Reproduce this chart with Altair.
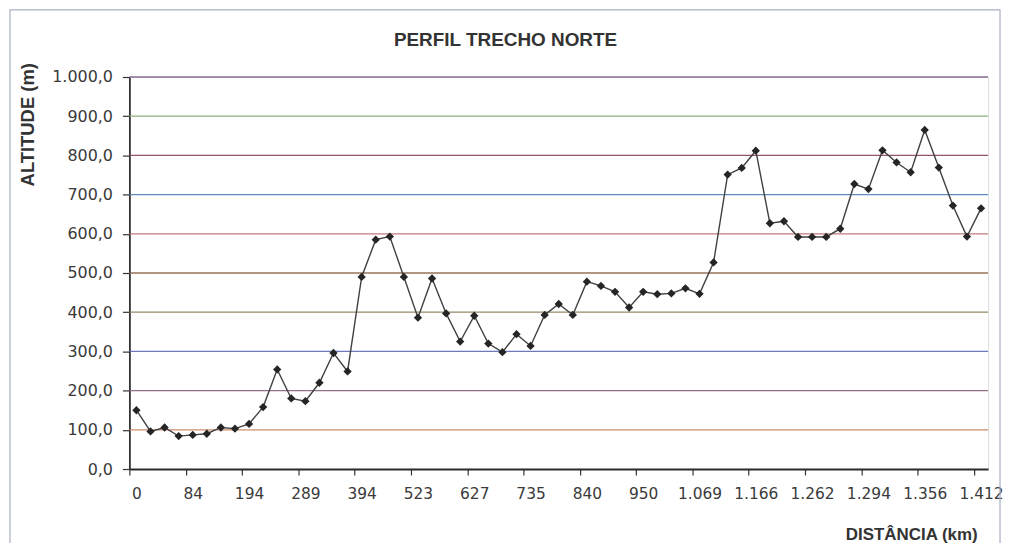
import altair as alt
import pandas as pd

# ---- data ----
title_text = "PERFIL TRECHO NORTE"
distance_labels = ["0", "84", "194", "289", "394", "523", "627", "735", "840",
                   "950", "1.069", "1.166", "1.262", "1.294", "1.356", "1.412"]

altitude = [150, 96, 106, 84, 87, 90, 106, 103, 115, 158,
            254, 180, 173, 220, 296, 249, 490, 585, 593, 490,
            386, 486, 397, 325, 391, 320, 298, 344, 314, 393,
            421, 393, 478, 467, 452, 412, 452, 446, 448, 461,
            447, 527, 751, 768, 812, 627, 632, 592, 592, 592,
            613, 727, 714, 813, 782, 757, 865, 769, 672, 593, 665]

y_ticks = [0, 100, 200, 300, 400, 500, 600, 700, 800, 900, 1000]
grid_values = [100, 200, 300, 400, 500, 600, 700, 800, 900, 1000]
grid_colors = ["#c8805c", "#86607a", "#5c6cb8", "#8a7c58", "#8a6448",
               "#b86c6c", "#5080b8", "#884060", "#80a86c", "#80608a"]

n = len(altitude)
df = pd.DataFrame({"i": list(range(n)), "alt": altitude})
grid_df = pd.DataFrame({"g": grid_values})

step = 4
tick_vals = [step * k for k in range(len(distance_labels))]
label_js = "[" + ",".join("'" + s + "'" for s in distance_labels) + "]"
x_label_expr = label_js + "[round(datum.value / " + str(step) + ")]"
y_label_expr = ("replace(replace(replace(format(datum.value, ',.1f'), ',', '_'), '.', ','), '_', '.')")

W, H = 863, 394
half = W / n / 2
x_scale = alt.Scale(domain=[-0.5, n - 0.5], nice=False, zero=False)
y_scale = alt.Scale(domain=[0, 1000], nice=False)

x_axis = alt.Axis(
    values=tick_vals, labelExpr=x_label_expr, tickOffset=-half, labelOffset=half,
    grid=False, tickSize=6, tickColor="#333", tickWidth=1.2,
    labelPadding=12, labelOverlap=False, labelFlush=False,
    labelFont="DejaVu Sans", labelFontSize=15.5, labelColor="#3a3a3a",
    domainColor="#2a2a2a", domainWidth=2,
    title="DISTÂNCIA (km)", titleFont="Liberation Sans", titleFontSize=17,
    titleFontWeight="bold", titleColor="#333",
    titleX=852, titleY=66, titleAlign="right", titleBaseline="middle",
)
y_axis = alt.Axis(
    values=y_ticks, labelExpr=y_label_expr,
    grid=False, tickSize=7, tickColor="#333", tickWidth=1.2,
    labelPadding=10, labelOverlap=False, labelFont="DejaVu Sans", labelFontSize=16,
    labelColor="#3a3a3a", domainColor="#333", domainWidth=1.8,
    title="ALTITUDE (m)", titleFont="Liberation Sans", titleFontSize=18.5,
    titleFontWeight="bold", titleColor="#333", titleAngle=270,
    titleX=-102.5, titleY=47.5, titleAlign="center", titleBaseline="middle",
)

grid = alt.Chart(grid_df).mark_rule(strokeWidth=1.3, opacity=0.9).encode(
    y=alt.Y("g:Q", scale=y_scale, axis=y_axis),
    color=alt.Color("g:N", scale=alt.Scale(domain=grid_values, range=grid_colors), legend=None),
)

line = alt.Chart(df).mark_line(
    color="#404040", strokeWidth=1.4,
    point=alt.OverlayMarkDef(shape="diamond", filled=True, size=70, color="#252525"),
).encode(
    x=alt.X("i:Q", scale=x_scale, axis=x_axis),
    y=alt.Y("alt:Q", scale=y_scale, axis=y_axis),
)

border = alt.Chart(pd.DataFrame({"a": [0]})).mark_rect(
    fill="transparent", stroke="#a8b0c4", strokeWidth=1.2
).encode(x=alt.value(-120), x2=alt.value(875), y=alt.value(-67.5), y2=alt.value(600))

title = alt.Chart(pd.DataFrame({"t": [title_text]})).mark_text(
    font="Liberation Sans", fontSize=19, fontWeight="bold", color="#333",
    align="center", baseline="middle"
).encode(text="t:N", x=alt.value(378), y=alt.value(-37.5))

chart = alt.layer(border, grid, line, title).properties(
    width=W, height=H,
    autosize=alt.AutoSizeParams(type="none"),
    padding={"left": 122, "top": 68, "right": 15, "bottom": 73},
).configure_view(stroke="#b8b8b8", strokeWidth=1).configure(background="white")

chart.save("out.html", embed_options={"renderer": "svg", "actions": False})
